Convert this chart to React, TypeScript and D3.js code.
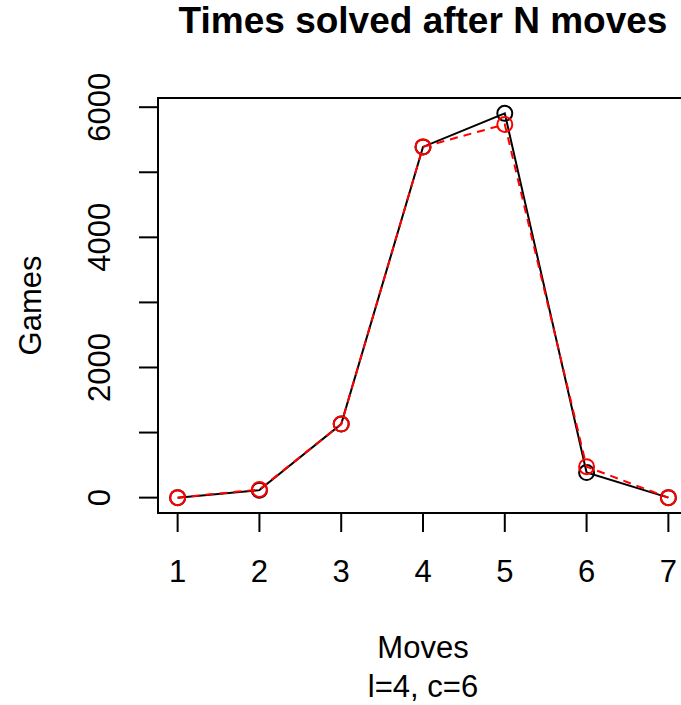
import React from "react";
import * as d3 from "d3";

const moves = [1, 2, 3, 4, 5, 6, 7];
const seriesBlack = [0, 115, 1130, 5390, 5905, 385, 0];
const seriesRed = [0, 125, 1130, 5390, 5735, 475, 0];
const xTicks = [1, 2, 3, 4, 5, 6, 7];
const yTicks = [0, 1000, 2000, 3000, 4000, 5000, 6000];
const yLabelTicks = [0, 2000, 4000, 6000];

const W = 681;
const H = 705;
const L = 158;
const R = 688;
const T = 98;
const B = 513;

export default function App() {
  const all = seriesBlack.concat(seriesRed);
  const ymin = d3.min(all) as number;
  const ymax = d3.max(all) as number;
  const yr = ymax - ymin;
  const x = d3.scaleLinear().domain([1 - 0.24, 7 + 0.24]).range([L, R]);
  const y = d3.scaleLinear().domain([ymin - 0.04 * yr, ymax + 0.04 * yr]).range([B, T]);
  const line = d3
    .line<number>()
    .x((_, i) => x(moves[i]))
    .y((d) => y(d));
  const font = "Liberation Sans, Arial, Helvetica, sans-serif";
  const tick = 19;
  const cx = (L + R) / 2;
  const fs = 31;
  return (
    <svg
      width={W}
      height={H}
      style={{ position: "absolute", left: 0, top: 0, background: "#fff" }}
      fontFamily={font}
    >
      <rect x={0} y={0} width={W} height={H} fill="#fff" />
      <text x={cx} y={33} textAnchor="middle" fontSize={37} fontWeight="bold">
        Times solved after N moves
      </text>
      <rect x={L} y={T} width={R - L} height={B - T} fill="none" stroke="#000" strokeWidth={2} />
      {/* x axis */}
      <line x1={x(1)} x2={x(7)} y1={B} y2={B} stroke="#000" strokeWidth={2} />
      {xTicks.map((t) => (
        <g key={"xt" + t}>
          <line x1={x(t)} x2={x(t)} y1={B} y2={B + tick} stroke="#000" strokeWidth={2} />
          <text x={x(t)} y={582} textAnchor="middle" fontSize={fs}>
            {t}
          </text>
        </g>
      ))}
      {/* y axis */}
      {yTicks.map((t) => (
        <line key={"yt" + t} x1={L - tick} x2={L} y1={y(t)} y2={y(t)} stroke="#000" strokeWidth={2} />
      ))}
      {yLabelTicks.map((t) => (
        <text
          key={"yl" + t}
          transform={`translate(110,${y(t)}) rotate(-90)`}
          textAnchor="middle"
          fontSize={fs}
        >
          {t}
        </text>
      ))}
      <text transform={`translate(41,${(T + B) / 2}) rotate(-90)`} textAnchor="middle" fontSize={fs}>
        Games
      </text>
      <text x={cx} y={658} textAnchor="middle" fontSize={fs}>
        Moves
      </text>
      <text x={cx} y={697} textAnchor="middle" fontSize={fs}>
        l=4, c=6
      </text>
      {/* black series */}
      <path d={line(seriesBlack) || ""} fill="none" stroke="#000" strokeWidth={2} />
      {seriesBlack.map((v, i) => (
        <circle key={"b" + i} cx={x(moves[i])} cy={y(v)} r={7.5} fill="none" stroke="#000" strokeWidth={2} />
      ))}
      {/* red series */}
      <path d={line(seriesRed) || ""} fill="none" stroke="#ff0000" strokeWidth={2} strokeDasharray="8,6" />
      {seriesRed.map((v, i) => (
        <circle key={"r" + i} cx={x(moves[i])} cy={y(v)} r={7.5} fill="none" stroke="#ff0000" strokeWidth={2} />
      ))}
    </svg>
  );
}
